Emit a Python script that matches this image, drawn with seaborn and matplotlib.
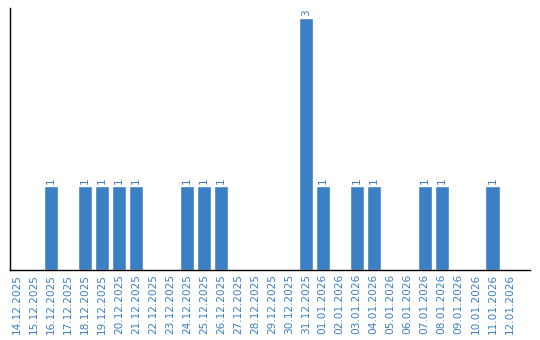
import matplotlib
matplotlib.use("Agg")
import matplotlib.pyplot as plt
import seaborn as sns
import pandas as pd

dates = ["14.12.2025", "15.12.2025", "16.12.2025", "17.12.2025", "18.12.2025",
         "19.12.2025", "20.12.2025", "21.12.2025", "22.12.2025", "23.12.2025",
         "24.12.2025", "25.12.2025", "26.12.2025", "27.12.2025", "28.12.2025",
         "29.12.2025", "30.12.2025", "31.12.2025", "01.01.2026", "02.01.2026",
         "03.01.2026", "04.01.2026", "05.01.2026", "06.01.2026", "07.01.2026",
         "08.01.2026", "09.01.2026", "10.01.2026", "11.01.2026", "12.01.2026"]
counts = [0, 0, 1, 0, 1, 1, 1, 1, 0, 0, 1, 1, 1, 0, 0, 0, 0, 3, 1, 0,
          1, 1, 0, 0, 1, 1, 0, 0, 1, 0]

df = pd.DataFrame({"date": dates, "count": counts})
bar_color = "#3b7fc4"
text_color = "#3b7fc4"

sns.set_style("white")
fig = plt.figure(figsize=(5.4, 3.4), dpi=100)
ax = fig.add_axes([10/540, 1 - 270/340, 520/540, 262/340])
sns.barplot(data=df, x="date", y="count", color=bar_color, width=0.84,
            saturation=1, ax=ax)
for i, v in enumerate(counts):
    if v > 0:
        ax.text(i, v + 0.02, str(v), rotation=90, ha="center", va="bottom",
                fontsize=7.5, color=text_color)
ax.set_xlim(-0.41, 30.2)
ax.set_ylim(0, 3.12)
ax.set_xlabel("")
ax.set_ylabel("")
ax.set_yticks([])
ax.tick_params(axis="x", length=0, pad=3, labelsize=7.6, labelcolor=text_color,
               labelrotation=90)
for s in ["top", "right"]:
    ax.spines[s].set_visible(False)
for s in ["left", "bottom"]:
    ax.spines[s].set_color("black")
    ax.spines[s].set_linewidth(1)
fig.savefig("out.png", dpi=100)
